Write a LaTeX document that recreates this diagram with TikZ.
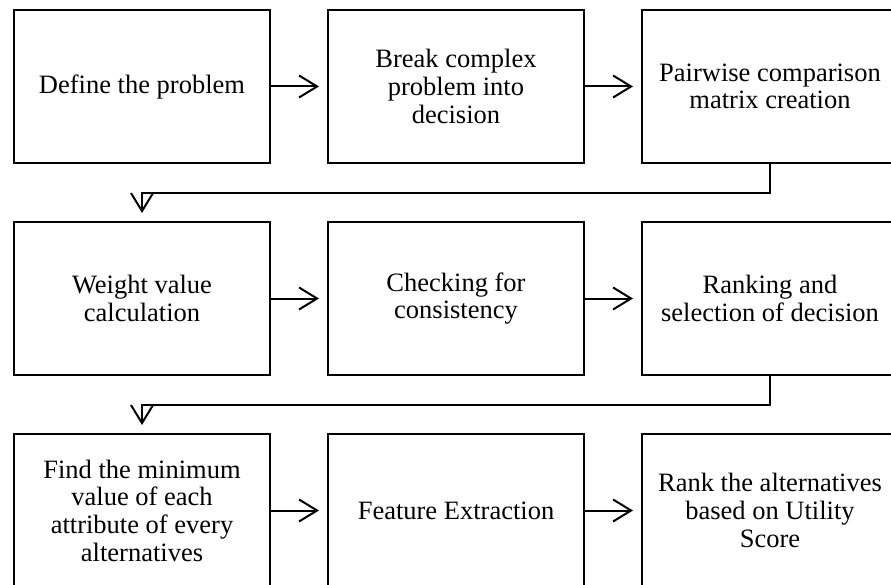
\documentclass[tikz,border=0pt]{standalone}
\usepackage{fontspec}
\setmainfont{Liberation Serif}
\usetikzlibrary{arrows.meta,positioning}

\begin{document}
\begin{tikzpicture}[
      box/.style={draw,line width=2.4pt,minimum width=256pt,minimum height=153pt,align=center,
        inner sep=0pt,outer sep=0pt,font=\fontsize{26.5}{27.7}\selectfont},
      flow/.style={->,line width=2pt,shorten >=9pt},
      >={Straight Barb[length=18pt,width=22pt,line width=2pt]}]
    \useasboundingbox (0,0) rectangle (891pt,-585pt);
    \clip (0,0) rectangle (891pt,-585pt);
    \node[box] (def) at (142pt,-86.5pt) {Define the problem};
    \node[box,right=58pt of def] (brk) {Break complex\\problem into\\decision};
    \node[box,right=58pt of brk] (pair) {Pairwise comparison\\matrix creation};
    \node[box,below=59pt of def] (wt) {Weight value\\calculation};
    \node[box,right=58pt of wt] (cons) {Checking for\\consistency};
    \node[box,right=58pt of cons] (rank) {Ranking and\\selection of decision};
    \node[box,below=59pt of wt] (minv) {Find the minimum\\value of each\\attribute of every\\alternatives};
    \node[box,right=58pt of minv] (feat) {Feature Extraction};
    \node[box,right=58pt of feat] (util) {Rank the alternatives\\based on Utility\\Score};
    \draw[flow] (def) -- (brk);
    \draw[flow] (brk) -- (pair);
    \draw[flow] (pair.south) -- ++(0,-30pt) -| (wt.north);
    \draw[flow] (wt) -- (cons);
    \draw[flow] (cons) -- (rank);
    \draw[flow] (rank.south) -- ++(0,-30pt) -| (minv.north);
    \draw[flow] (minv) -- (feat);
    \draw[flow] (feat) -- (util);
  \end{tikzpicture}
\end{document}
